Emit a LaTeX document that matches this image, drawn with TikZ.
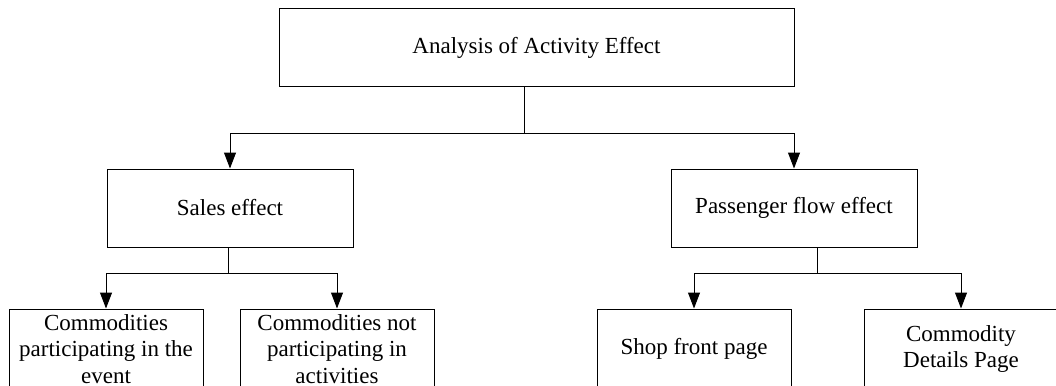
\documentclass[tikz,border=0pt]{standalone}
\usepackage{fontspec}
\setmainfont{Liberation Serif}
\usetikzlibrary{arrows.meta}

\begin{document}
\begin{tikzpicture}[x=1pt,y=-1pt,font=\fontsize{23}{26.5}\selectfont,
        box/.style={draw,line width=1pt,align=center,inner sep=0pt},
        arr/.style={-{Triangle[length=16pt,width=12pt]},line width=1pt}]
            \clip (0,0) rectangle (1056,385);
            % boxes
            \node[box,minimum width=515pt,minimum height=78pt] (effect) at (536.5,48) {Analysis of Activity Effect};
            \node[box,minimum width=246pt,minimum height=78pt] (sales) at (230,208) {Sales effect};
            \node[box,minimum width=246pt,minimum height=78pt] (flow) at (794,208) {Passenger flow effect};
            \node[box,minimum width=194pt,minimum height=80pt] (inevent) at (106,349) {Commodities\\participating in the\\event};
            \node[box,minimum width=194pt,minimum height=80pt] (notin) at (337,349) {Commodities not\\participating in\\activities};
            \node[box,minimum width=194pt,minimum height=80pt] (shop) at (694,349) {Shop front page};
            \node[box,minimum width=194pt,minimum height=80pt] (details) at (961,349) {Commodity\\Details Page};
            % connectors
            \coordinate (bus1) at (524,133);
            \coordinate (bus2) at (228,273);
            \coordinate (bus3) at (817,273);
            \draw[line width=1pt] (bus1 |- effect.south) -- (bus1);
            \draw[arr] (bus1) -| (sales.north);
            \draw[arr] (bus1) -| (flow.north);
            \draw[line width=1pt] (bus2 |- sales.south) -- (bus2);
            \draw[arr] (bus2) -| (inevent.north);
            \draw[arr] (bus2) -| (notin.north);
            \draw[line width=1pt] (bus3 |- flow.south) -- (bus3);
            \draw[arr] (bus3) -| (shop.north);
            \draw[arr] (bus3) -| (details.north);
        \end{tikzpicture}
\end{document}
